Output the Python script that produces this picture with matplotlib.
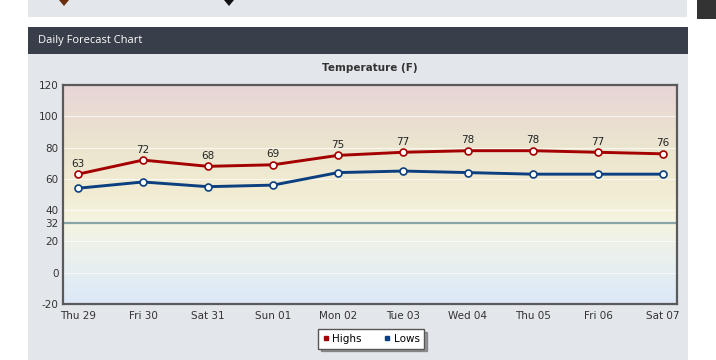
"""Daily forecast chart: highs / lows temperature"""

import numpy as np
import matplotlib.pyplot as plt
from matplotlib.colors import LinearSegmentedColormap
from matplotlib.patches import Rectangle, Polygon
from matplotlib.lines import Line2D

plt.rcParams['font.family'] = 'DejaVu Sans'

days = ['Thu 29', 'Fri 30', 'Sat 31', 'Sun 01', 'Mon 02',
        'Tue 03', 'Wed 04', 'Thu 05', 'Fri 06', 'Sat 07']
highs = [63, 72, 68, 69, 75, 77, 78, 78, 77, 76]
lows = [54, 58, 55, 56, 64, 65, 64, 63, 63, 63]
y_ticks = [-20, 0, 20, 40, 60, 80, 100, 120]
freezing = 32

W, H = 716, 360
fig = plt.figure(figsize=(W / 100, H / 100), dpi=100)
fig.patch.set_facecolor('white')

# фон страницы в пикселях
bg = fig.add_axes([0, 0, 1, 1])
bg.set_xlim(0, W)
bg.set_ylim(H, 0)
bg.axis('off')
bg.add_patch(Rectangle((28, 0), 659, 17, color='#e3e6eb', lw=0))
bg.add_patch(Polygon([[59, 0], [69, 0], [64, 6]], color='#6b2e0c', lw=0))
bg.add_patch(Polygon([[224, 0], [234, 0], [229, 6]], color='#111111', lw=0))
bg.add_patch(Rectangle((697, 0), 19, 19, color='#333333', lw=0))
bg.add_patch(Rectangle((28, 27), 660, 27, color='#383e4a', lw=0))
bg.add_patch(Rectangle((28, 54), 660, 306, color='#e3e6eb', lw=0))
bg.text(38, 41, 'Daily Forecast Chart', color='white', fontsize=8,
        family='Open Sans', va='center', ha='left')

ax = fig.add_axes([63 / W, 1 - 304 / H, 614 / W, 219 / H])
x = np.arange(len(days))

# градиентная заливка области графика
cmap = LinearSegmentedColormap.from_list('temp', [
    (0.0, '#dce8f8'), (0.2, '#e9f0ef'), (0.38, '#f6f4e2'),
    (0.5, '#f2edd2'), (0.72, '#ebe5cf'), (1.0, '#e8d5d6')])
grad = np.linspace(0, 1, 256).reshape(-1, 1)
ax.imshow(grad, cmap=cmap, aspect='auto', origin='lower',
          extent=[-0.23, 9.215, -20, 120], zorder=0)

for t in y_ticks[1:-1]:
    ax.axhline(t, color='white', lw=0.8, alpha=0.7, zorder=1)
ax.axhline(freezing, color='#89a5a8', lw=1.6, zorder=2)

ax.plot(x, highs, color='#a50000', lw=2.1, marker='o', ms=5,
        mfc='white', mec='#a50000', mew=1.2, zorder=4)
ax.plot(x, lows, color='#0b3f80', lw=2.1, marker='o', ms=5,
        mfc='white', mec='#0b3f80', mew=1.2, zorder=3)
for xi, v in zip(x, highs):
    ax.annotate(str(v), (xi, v), xytext=(0, 4), textcoords='offset points',
                ha='center', va='bottom', fontsize=7.5, color='#222222')

ax.set_xlim(-0.23, 9.215)
ax.set_ylim(-20, 120)
ax.set_xticks(x)
ax.set_xticklabels(days)
ax.set_yticks(y_ticks + [freezing])
ax.set_yticklabels([str(t) for t in y_ticks] + [str(freezing)])
ax.get_yticklabels()[-1].set_color('#2f6fae')
ax.tick_params(length=0, labelsize=7.5, colors='#333333', pad=3)
ax.tick_params(axis='x', pad=5)
for s in ax.spines.values():
    s.set_color('#5a5a5a')
    s.set_linewidth(1.6)

fig.text(370 / W, 1 - 68 / H, 'Temperature (F)', ha='center', va='center',
         fontsize=7.5, fontweight='bold', color='#333333')

handles = [Line2D([], [], ls='none', marker='s', ms=3.5, color='#a50000'),
           Line2D([], [], ls='none', marker='s', ms=3.5, color='#0b3f80')]
leg = fig.legend(handles, ['Highs', 'Lows'], loc='center',
                 bbox_to_anchor=(371 / W, 1 - 339 / H), ncol=2,
                 fontsize=7.5, frameon=True, fancybox=False, shadow=True,
                 handlelength=0.6, handletextpad=0.3, columnspacing=2.2,
                 borderpad=0.45)
leg.get_frame().set_edgecolor('#555555')
leg.get_frame().set_linewidth(1.0)

fig.savefig('out.png', dpi=100)
